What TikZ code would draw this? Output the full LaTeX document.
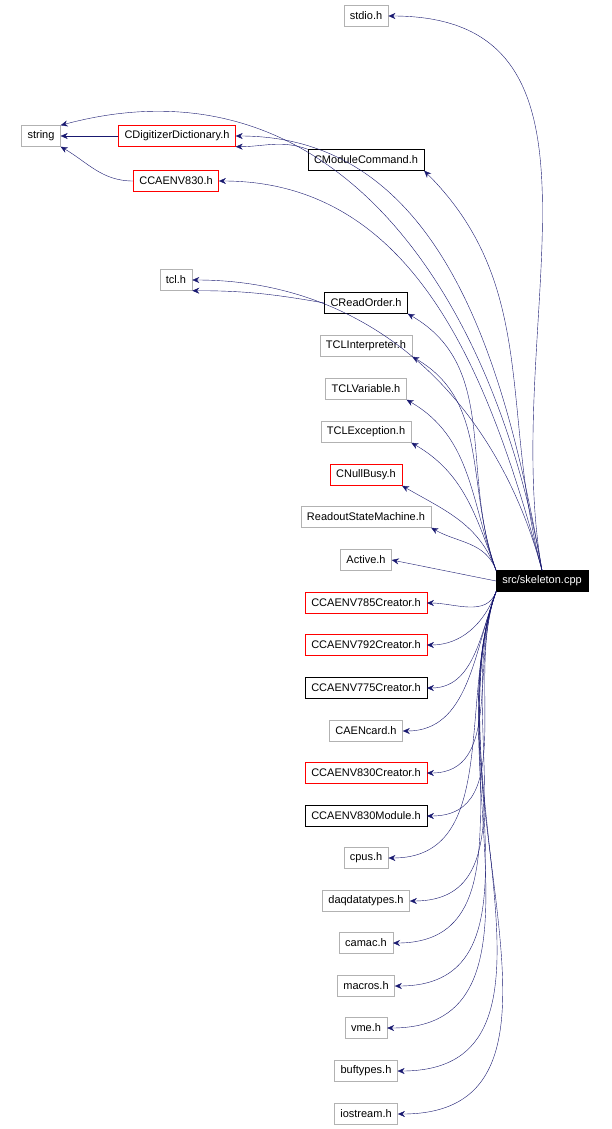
\documentclass[tikz,border=0pt]{standalone}
\usepackage{fontspec}
\setmainfont{Liberation Sans}
\usetikzlibrary{arrows.meta}
\definecolor{edgeblue}{RGB}{25,25,112}
\begin{document}
\begin{tikzpicture}[x=1pt, y=-1pt,
    file/.style={rectangle, draw=gray!60, fill=white, inner xsep=6pt, inner ysep=3pt, minimum height=21pt, font=\fontsize{11}{12}\selectfont},
    redfile/.style={file, draw=red},
    blackfile/.style={file, draw=black},
    edge/.style={draw=edgeblue, -{Stealth[length=7pt, width=6pt]}}]
    \useasboundingbox (0,0) rectangle (612,1129);

    % Included files
    \node[file] (stdio) at (366,16) {stdio.h};
    \node[file] (string) at (41,136) {string};
    \node[redfile] (dict) at (177,136) {CDigitizerDictionary.h};
    \node[blackfile] (modcmd) at (366,160) {CModuleCommand.h};
    \node[redfile] (v830) at (176,181) {CCAENV830.h};
    \node[file] (tcl) at (176,280) {tcl.h};
    \node[blackfile] (readorder) at (366,303) {CReadOrder.h};
    \node[file] (tclinterp) at (366,346) {TCLInterpreter.h};
    \node[file] (tclvar) at (366,389) {TCLVariable.h};
    \node[file] (tclexc) at (366,432) {TCLException.h};
    \node[redfile] (nullbusy) at (366,475) {CNullBusy.h};
    \node[file] (rsm) at (366,517) {ReadoutStateMachine.h};
    \node[file] (active) at (366,560) {Active.h};
    \node[redfile] (c785) at (366,603) {CCAENV785Creator.h};
    \node[redfile] (c792) at (366,645) {CCAENV792Creator.h};
    \node[blackfile] (c775) at (366,688) {CCAENV775Creator.h};
    \node[file] (caencard) at (366,731) {CAENcard.h};
    \node[redfile] (c830) at (366,773) {CCAENV830Creator.h};
    \node[blackfile] (m830) at (366,816) {CCAENV830Module.h};
    \node[file] (cpus) at (366,858) {cpus.h};
    \node[file] (daqtypes) at (366,901) {daqdatatypes.h};
    \node[file] (camac) at (366,943) {camac.h};
    \node[file] (macros) at (366,986) {macros.h};
    \node[file] (vme) at (366,1028) {vme.h};
    \node[file] (buftypes) at (366,1071) {buftypes.h};
    \node[file] (iostream) at (366,1114) {iostream.h};

    % Source file
    \node[blackfile, fill=black, text=white] (skel) at (542,581) {src/skeleton.cpp};

    % Dependencies
    \draw[edge] (dict) -- (string);
    \draw[edge] (v830.west) to[out=180, in=-30] (string.south east);
    \draw[edge] (modcmd.north west) to[out=160, in=0] (dict.south east);
    \draw[edge] (readorder.west) to[out=170, in=0] (tcl.south east);

    \draw[edge] (skel.north) to[out=100, in=0, looseness=1.1] (stdio.east);
    \draw[edge] (skel.north) to[out=100, in=15, looseness=1.1] (string.north east);
    \draw[edge] (skel.north) to[out=100, in=0] (dict.east);
    \draw[edge] (skel.north) to[out=105, in=-45] (modcmd.south east);
    \draw[edge] (skel.north) to[out=105, in=0] (v830.east);
    \draw[edge] (skel.north) to[out=105, in=0] (tcl.east);
    \foreach \n in {readorder, tclinterp, tclvar, tclexc, nullbusy, rsm}
        \draw[edge] (skel.north west) to[out=110, in=-30] (\n.south east);
    \draw[edge] (skel.west) -- (active.east);
    \foreach \n in {c785, c792, c775, caencard, c830, m830, cpus, daqtypes, camac, macros, vme, buftypes, iostream}
        \draw[edge] (skel.south west) to[out=250, in=0] (\n.east);
\end{tikzpicture}
\end{document}
